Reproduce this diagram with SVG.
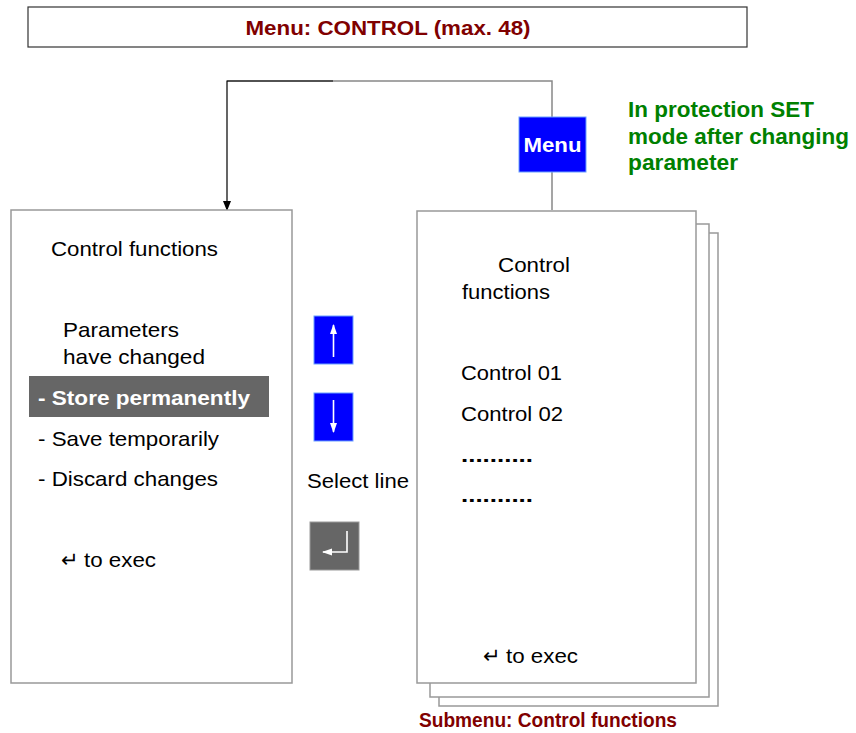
<svg xmlns="http://www.w3.org/2000/svg" width="856" height="733" viewBox="0 0 856 733">
<style>
.t{font-family:"Liberation Sans",Arial,sans-serif;font-size:21px;fill:#000}
.b{font-weight:bold}
.red{fill:#800000}
.green{fill:#008000;font-weight:bold;font-size:22px}
.box{fill:#fff;stroke:#999;stroke-width:1.5}
.btn{fill:#0000ff;stroke:#6aa0ff;stroke-width:1}
.gbtn{fill:#666;stroke:#999;stroke-width:1}
.wl{stroke:#fff;stroke-width:1.6;fill:none}
</style>
<defs>
<marker id="ah" markerWidth="10" markerHeight="10" refX="9" refY="5" orient="auto" markerUnits="userSpaceOnUse">
<path d="M0,1 L10,5 L0,9 Z" fill="#000"/>
</marker>
<marker id="wh" markerWidth="10" markerHeight="10" refX="9" refY="5" orient="auto" markerUnits="userSpaceOnUse">
<path d="M0,1.5 L10,5 L0,8.5 Z" fill="#fff"/>
</marker>
</defs>

<g id="title">
<rect x="28" y="7" width="719" height="40" fill="#fff" stroke="#333" stroke-width="1.2"/>
<text x="388" y="35" text-anchor="middle" class="t b red" font-size="20" textLength="285" lengthAdjust="spacingAndGlyphs">Menu: CONTROL (max. 48)</text>
</g>

<g id="connectors">
<path d="M552,210 V81 H227" fill="none" stroke="#888" stroke-width="1.5"/>
<path d="M333,81 H227 V210" fill="none" stroke="#000" stroke-width="1.2" marker-end="url(#ah)"/>
</g>

<g id="menu-key">
<rect x="519" y="117" width="67" height="55" class="btn"/>
<text x="552.5" y="152" text-anchor="middle" class="t b" style="fill:#fff" font-size="20" textLength="58" lengthAdjust="spacingAndGlyphs">Menu</text>
</g>

<g id="note">
<text x="628" y="117" class="t green" textLength="186" lengthAdjust="spacingAndGlyphs">In protection SET</text>
<text x="628" y="144" class="t green" textLength="221" lengthAdjust="spacingAndGlyphs">mode after changing</text>
<text x="628" y="170" class="t green" textLength="110" lengthAdjust="spacingAndGlyphs">parameter</text>
</g>

<g id="left-panel">
<rect x="11" y="210" width="281" height="473" class="box"/>
<text x="51" y="256" class="t" textLength="167" lengthAdjust="spacingAndGlyphs">Control functions</text>
<text x="63" y="337" class="t" textLength="116" lengthAdjust="spacingAndGlyphs">Parameters</text>
<text x="63" y="364" class="t" textLength="142" lengthAdjust="spacingAndGlyphs">have changed</text>
<rect x="29" y="376" width="240" height="41" fill="#666"/>
<text x="38" y="405" class="t b" style="fill:#fff" textLength="212" lengthAdjust="spacingAndGlyphs">- Store permanently</text>
<text x="38" y="446" class="t" textLength="181" lengthAdjust="spacingAndGlyphs">- Save temporarily</text>
<text x="38" y="486" class="t" textLength="180" lengthAdjust="spacingAndGlyphs">- Discard changes</text>
<text x="61" y="567" class="t" font-size="18">↵</text>
<text x="84" y="567" class="t" textLength="72" lengthAdjust="spacingAndGlyphs">to exec</text>
</g>

<g id="up-key">
<rect x="314" y="316" width="39" height="48" class="btn"/>
<line x1="333.5" y1="357" x2="333.5" y2="325" class="wl" marker-end="url(#wh)"/>
</g>
<g id="down-key">
<rect x="314" y="393" width="39" height="48" class="btn"/>
<line x1="333.5" y1="400" x2="333.5" y2="432" class="wl" marker-end="url(#wh)"/>
</g>
<g id="select-label">
<text x="307" y="488" class="t" textLength="102" lengthAdjust="spacingAndGlyphs">Select line</text>
</g>
<g id="enter-key">
<rect x="310" y="522" width="49" height="48" class="gbtn"/>
<path d="M347,531 V552 H323" class="wl" marker-end="url(#wh)"/>
</g>

<g id="submenu">
<rect x="439" y="233" width="279" height="473" class="box"/>
<rect x="430" y="224" width="279" height="473" class="box"/>
<rect x="417" y="211" width="279" height="472" class="box"/>
<text x="498" y="272" class="t" textLength="72" lengthAdjust="spacingAndGlyphs">Control</text>
<text x="462" y="299" class="t" textLength="88" lengthAdjust="spacingAndGlyphs">functions</text>
<text x="461" y="380" class="t" textLength="101" lengthAdjust="spacingAndGlyphs">Control 01</text>
<text x="461" y="421" class="t" textLength="102" lengthAdjust="spacingAndGlyphs">Control 02</text>
<text x="461" y="462" class="t b" textLength="72" lengthAdjust="spacingAndGlyphs">..........</text>
<text x="461" y="502" class="t b" textLength="72" lengthAdjust="spacingAndGlyphs">..........</text>
<text x="483" y="663" class="t" font-size="18">↵</text>
<text x="506" y="663" class="t" textLength="72" lengthAdjust="spacingAndGlyphs">to exec</text>
</g>

<g id="submenu-label">
<text x="419" y="727" class="t b red" font-size="18" textLength="258" lengthAdjust="spacingAndGlyphs">Submenu: Control functions</text>
</g>
</svg>
